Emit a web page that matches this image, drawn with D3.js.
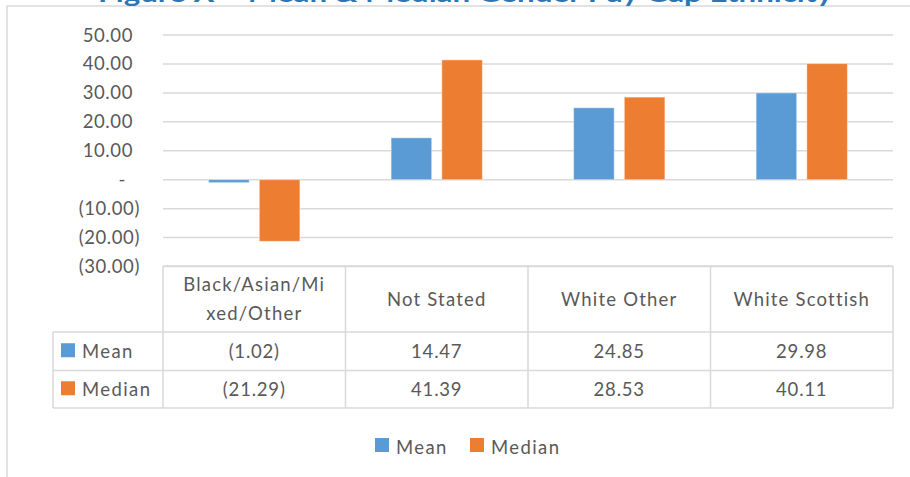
<!DOCTYPE html>
<html>
<head>
<meta charset="utf-8">
<script src="https://cdn.jsdelivr.net/npm/d3@7"></script>
<style>
  body { margin: 0; background: #fff; }
  text { font-family: Lato, "Open Sans", sans-serif; fill: #595959; }
</style>
</head>
<body>
<svg id="chart" width="910" height="477"></svg>
<script>
// DATA
var categories = ["Black/Asian/Mixed/Other", "Not Stated", "White Other", "White Scottish"];
var headerLines = [["Black/Asian/Mi", "xed/Other"], ["Not Stated"], ["White Other"], ["White Scottish"]];
var seriesNames = ["Mean", "Median"];
var meanValues = [-1.02, 14.47, 24.85, 29.98];
var medianValues = [-21.29, 41.39, 28.53, 40.11];
var yTicks = [50, 40, 30, 20, 10, 0, -10, -20, -30];
var colors = {"Mean": "#5b9bd5", "Median": "#ed7d31"};

var fontSize = "18.5px";
var svg = d3.select("#chart");

// frame + title (cut off at the top, like the original)
svg.append("rect")
  .attr("x", 7).attr("y", 6).attr("width", 920).attr("height", 490)
  .style("fill", "none").style("stroke", "#d9d9d9").style("stroke-width", 1.5);

svg.append("text")
  .attr("x", 98).attr("y", 2)
  .attr("textLength", 735).attr("lengthAdjust", "spacingAndGlyphs")
  .style("font-size", "24px").style("font-weight", "bold").style("fill", "#2e75b6")
  .text("Figure X – Mean & Median Gender Pay Gap Ethnicity");

// SCALES
var left = 163, right = 893;
var x = d3.scaleBand().domain(categories).range([left, right]);
var y = d3.scaleLinear().domain([-30, 50]).range([266.5, 35]);
var inner = d3.scaleBand().domain(seriesNames)
  .range([0, x.bandwidth() * 0.5]).paddingInner(0.2);

function fmt(v) {
  if (v === 0) return "-";
  var s = d3.format(".2f")(Math.abs(v));
  return v < 0 ? "(" + s + ")" : s;
}

// GRID
svg.append("g").selectAll("line")
  .data(yTicks).enter().append("line")
  .attr("x1", left).attr("x2", right)
  .attr("y1", function(d) { return y(d); }).attr("y2", function(d) { return y(d); })
  .style("stroke", "#d9d9d9").style("stroke-width", 1.5);

// Y LABELS
svg.append("g").selectAll("text")
  .data(yTicks).enter().append("text")
  .attr("x", function(d) { return d < 0 ? 140 : (d === 0 ? 126 : 133); })
  .attr("y", function(d) { return y(d) + 6.5; })
  .style("text-anchor", "end").style("font-size", fontSize).style("letter-spacing", "0.6px")
  .text(fmt);

// BARS
var rows = categories.map(function(c, i) {
  return {cat: c, vals: [{key: "Mean", v: meanValues[i]}, {key: "Median", v: medianValues[i]}]};
});

var groups = svg.append("g").selectAll("g")
  .data(rows).enter().append("g")
  .attr("transform", function(d) { return "translate(" + (x(d.cat) + x.bandwidth() * 0.25) + ",0)"; });

groups.selectAll("rect")
  .data(function(d) { return d.vals; }).enter().append("rect")
  .attr("x", function(d) { return inner(d.key); })
  .attr("width", inner.bandwidth())
  .attr("y", function(d) { return y(Math.max(0, d.v)); })
  .attr("height", function(d) { return Math.abs(y(d.v) - y(0)); })
  .style("fill", function(d) { return colors[d.key]; })
  .style("stroke", "#fff").style("stroke-opacity", 0.4).style("stroke-width", 1);

// DATA TABLE
var tTop = 266, hBottom = 332, r1Bottom = 370.5, r2Bottom = 408;
var tLeft = 53;
var lineStyle = function(sel) { sel.style("stroke", "#d9d9d9").style("stroke-width", 1.5); };

var table = svg.append("g");
// horizontal lines
[[left, tTop], [tLeft, hBottom], [tLeft, r1Bottom], [tLeft, r2Bottom]].forEach(function(p) {
  table.append("line").attr("x1", p[0]).attr("x2", right)
    .attr("y1", p[1]).attr("y2", p[1]).call(lineStyle);
});
// vertical lines
table.append("line").attr("x1", tLeft).attr("x2", tLeft)
  .attr("y1", hBottom).attr("y2", r2Bottom).call(lineStyle);
x.domain().concat(["end"]).forEach(function(c) {
  var xx = c === "end" ? right : x(c);
  table.append("line").attr("x1", xx).attr("x2", xx)
    .attr("y1", tTop).attr("y2", r2Bottom).call(lineStyle);
});

// header labels
categories.forEach(function(c, i) {
  var lines = headerLines[i];
  var cy = (tTop + hBottom) / 2;
  lines.forEach(function(l, j) {
    table.append("text")
      .attr("x", x(c) + x.bandwidth() / 2)
      .attr("y", cy + 6.5 + (j - (lines.length - 1) / 2) * 29)
      .style("text-anchor", "middle").style("font-size", fontSize).style("letter-spacing", "1.2px")
      .text(l);
  });
});

// rows
var rowData = [{key: "Mean", vals: meanValues, top: hBottom, bottom: r1Bottom},
               {key: "Median", vals: medianValues, top: r1Bottom, bottom: r2Bottom}];
rowData.forEach(function(r) {
  var cy = (r.top + r.bottom) / 2;
  table.append("rect").attr("x", 61).attr("y", cy - 8).attr("width", 14).attr("height", 14)
    .style("fill", colors[r.key]);
  table.append("text").attr("x", 82).attr("y", cy + 7)
    .style("font-size", fontSize).style("letter-spacing", "1.4px").text(r.key);
  r.vals.forEach(function(v, i) {
    table.append("text")
      .attr("x", x(categories[i]) + x.bandwidth() / 2)
      .attr("y", cy + 7)
      .style("text-anchor", "middle").style("font-size", fontSize).style("letter-spacing", "0.8px")
      .text(fmt(v));
  });
});

// LEGEND
var legendX = [375, 470];
var legend = svg.append("g").selectAll("g")
  .data(seriesNames).enter().append("g")
  .attr("transform", function(d, i) { return "translate(" + legendX[i] + ",438)"; });
legend.append("rect").attr("width", 14).attr("height", 14)
  .style("fill", function(d) { return colors[d]; });
legend.append("text").attr("x", 21).attr("y", 16)
  .style("font-size", fontSize).style("letter-spacing", "1.4px")
  .text(function(d) { return d; });
</script>
</body>
</html>
